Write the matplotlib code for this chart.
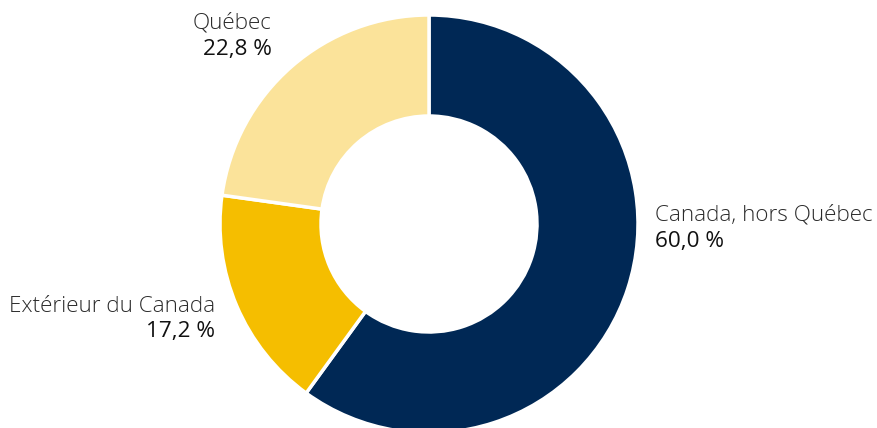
import matplotlib
matplotlib.use("Agg")
import matplotlib.pyplot as plt

categories = ["Canada, hors Québec", "Extérieur du Canada", "Québec"]
values = [60.0, 17.2, 22.8]
value_labels = ["60,0 %", "17,2 %", "22,8 %"]
colors = ["#002855", "#F5BE00", "#FBE39A"]

W, H = 878, 428
fig = plt.figure(figsize=(W / 100, H / 100), dpi=100)
ax = fig.add_axes([0, 0, 1, 1])
ax.set_xlim(0, W)
ax.set_ylim(0, H)
ax.set_aspect("equal")
ax.axis("off")

cx, cy, R = 429, H - 224, 209
ax.pie(values, colors=colors, startangle=90, counterclock=False,
       radius=R, center=(cx, cy),
       wedgeprops=dict(width=R - 108, edgecolor="white", linewidth=2.5))
ax.set_xlim(0, W)
ax.set_ylim(0, H)

fam = ["Open Sans", "DejaVu Sans"]
fs = 16.2
label_pos = {
    0: (655, 215, "left"),
    1: (215, 306, "right"),
    2: (272, 23, "right"),
}
for i, (x, y, ha) in label_pos.items():
    ax.text(x, H - y, categories[i], ha=ha, va="center", fontsize=fs,
            family=fam, weight="light", color="#2b2b2b")
    ax.text(x, H - y - 26, value_labels[i], ha=ha, va="center", fontsize=fs,
            family=fam, weight="normal", color="#111111")

fig.savefig("out.png", dpi=100)
